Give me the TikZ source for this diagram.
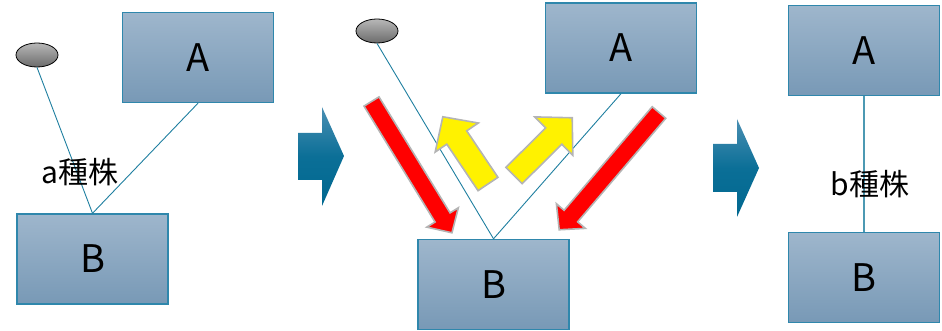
\documentclass[tikz,border=0pt]{standalone}
\usepackage{fontspec}
\setmainfont{Noto Sans CJK JP}
\usetikzlibrary{shapes.geometric,shadings}
\definecolor{boxline}{HTML}{2F87AC}
\definecolor{boxtop}{HTML}{9EB6CC}
\definecolor{boxbot}{HTML}{7899B6}
\definecolor{conn}{HTML}{1F7FA0}
\definecolor{chevtop}{HTML}{4A8FB3}
\definecolor{chevmid}{HTML}{0B6F97}
\definecolor{chevbot}{HTML}{006890}
\definecolor{rimgray}{HTML}{B4B4B4}
\newcommand\fatarrow[7]{%
  \draw[#1,shift={#2},rotate=#3] (0,-#5) -- ({#4-#7},-#5) -- ({#4-#7},-#6) -- (#4,0)
    -- ({#4-#7},#6) -- ({#4-#7},#5) -- (0,#5) -- cycle;}
\tikzset{
  box/.style={draw=boxline, line width=1.4pt, top color=boxtop, bottom color=boxbot,
    minimum width=151pt, minimum height=90pt, inner sep=0pt, font=\fontsize{38}{40}\selectfont},
  knob/.style={ellipse, draw=black, line width=0.8pt, top color=black!28, bottom color=black!58,
    minimum width=42pt, minimum height=24pt, inner sep=0pt},
  conline/.style={draw=conn, line width=0.9pt},
  lbl/.style={font=\fontsize{30}{32}\selectfont, inner sep=0pt},
  chev/.style={top color=chevtop, bottom color=chevbot, middle color=chevmid, draw=none},
  redarrow/.style={fill=red, draw=rimgray, line width=1.6pt, line join=miter},
  yelarrow/.style={fill=yellow, draw=rimgray, line width=1.6pt, line join=miter}
}
\begin{document}
\begin{tikzpicture}[x=1pt,y=1pt]
\useasboundingbox (0,0) rectangle (942,-331);
% panel 1
\node[box] (a1) at (198,-57.5) {A};
\node[box] (b1) at (92.5,-259) {B};
\node[knob] (e1) at (37,-55) {};
\draw[conline] (e1.south) -- (b1.north);
\draw[conline] (a1.south) -- (b1.north);
\node[lbl] (la) at (80,-172) {a種株};
% chevron 1
\path[chev] (298,-133) -- (322,-133) -- (322,-107) -- (344,-156) -- (322,-206) -- (322,-180) -- (298,-180) -- cycle;
% panel 2
\node[box] (a2) at (621,-48) {A};
\node[box] (b2) at (493.5,-284.5) {B};
\node[knob] (e2) at (377,-31) {};
\draw[conline] (e2.south) -- (b2.north);
\draw[conline] (a2.south) -- (b2.north);
\fatarrow{redarrow}{(371.5,-101.5)}{-58.5}{154}{8.8}{18.5}{18}
\fatarrow{redarrow}{(659,-112.5)}{-130.4}{154}{8.9}{19}{18}
\fatarrow{yelarrow}{(488,-184)}{123.9}{81}{12}{26}{25}
\fatarrow{yelarrow}{(514,-175.5)}{44.75}{82}{11.5}{27}{26}
% chevron 2
\path[chev] (713,-144) -- (737,-144) -- (737,-119) -- (759,-168) -- (737,-217) -- (737,-192) -- (713,-192) -- cycle;
% panel 3
\node[box] (a3) at (864,-50.5) {A};
\node[box] (b3) at (864,-277.5) {B};
\draw[conline, draw=conn!80, line width=1.3pt] (a3.south) -- (b3.north);
\node[lbl] (lb) at (870,-184) {b種株};
\end{tikzpicture}
\end{document}
